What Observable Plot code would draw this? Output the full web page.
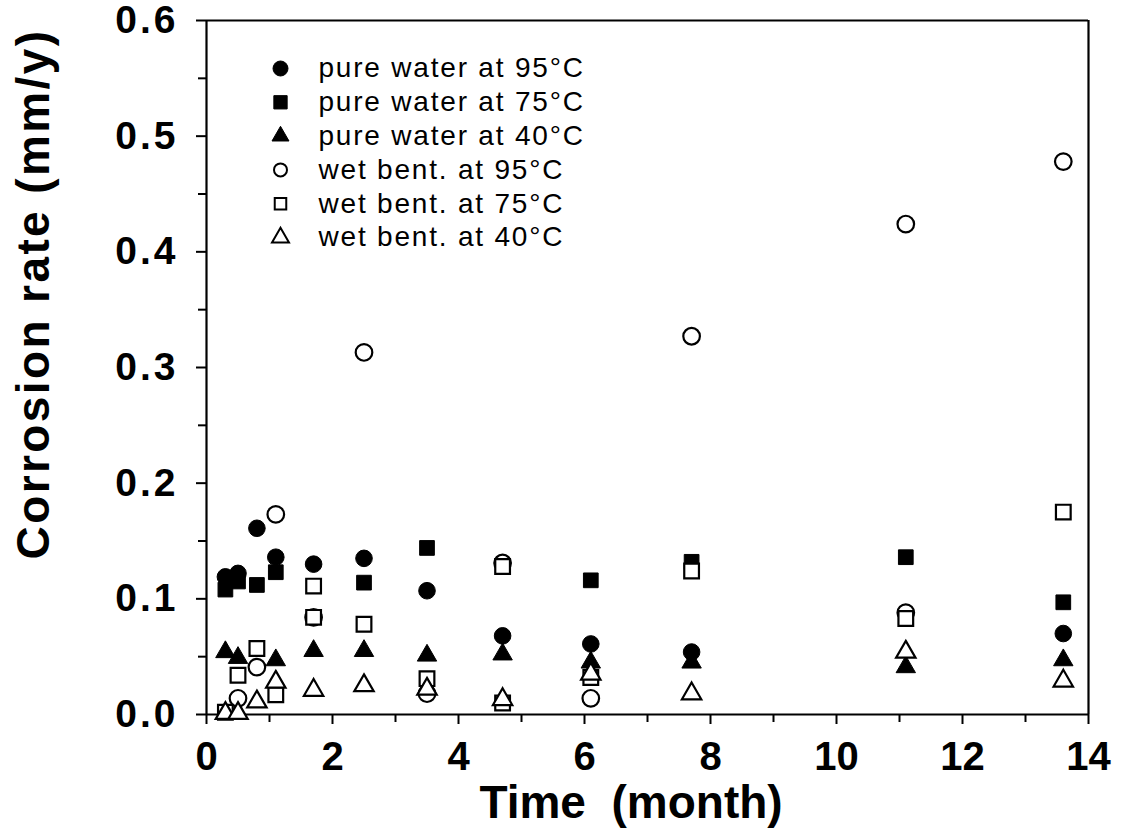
<!DOCTYPE html>
<html><head><meta charset="utf-8">
<script src="https://cdn.jsdelivr.net/npm/d3@7"></script>
<script src="https://cdn.jsdelivr.net/npm/@observablehq/plot@0.6"></script>
<style>
body{margin:0;background:#fff}
#wrap{position:relative;width:1125px;height:833px;font-family:'Liberation Sans',Arial,Helvetica,sans-serif;color:#000}
.ttl{position:absolute;white-space:nowrap;font-weight:bold;font-size:46px;line-height:46px}
#ylab{left:33px;top:294px;transform:translate(-50%,-50%) rotate(-90deg);letter-spacing:2.4px}
#xlab{left:631px;top:779px;transform:translateX(-50%)}
#chart g[aria-label="text"] text{letter-spacing:1.8px}
#chart g[aria-label="y-axis tick label"] text{letter-spacing:3px}
</style>
</head><body><div id="wrap"><div id="chart"></div>
<div class="ttl" id="ylab">Corrosion rate (mm/y)</div>
<div class="ttl" id="xlab">Time&nbsp;&nbsp;(month)</div>
</div>
<script>
// [time (month), corrosion rate (mm/y)]
const pureWater95 = [[0.3,0.119],[0.5,0.122],[0.8,0.161],[1.1,0.136],[1.7,0.130],[2.5,0.135],[3.5,0.107],[4.7,0.068],[6.1,0.061],[7.7,0.054],[13.6,0.070]];
const pureWater75 = [[0.3,0.108],[0.5,0.115],[0.8,0.112],[1.1,0.123],[2.5,0.114],[3.5,0.144],[6.1,0.116],[7.7,0.132],[11.1,0.136],[13.6,0.097]];
const pureWater40 = [[0.3,0.054],[0.5,0.049],[1.1,0.047],[1.7,0.055],[2.5,0.055],[3.5,0.051],[4.7,0.052],[6.1,0.045],[7.7,0.045],[11.1,0.041],[13.6,0.047]];
const wetBent95 = [[0.5,0.014],[0.8,0.041],[1.1,0.173],[1.7,0.084],[2.5,0.313],[3.5,0.018],[4.7,0.131],[6.1,0.014],[7.7,0.327],[11.1,0.088],[11.1,0.424],[13.6,0.478]];
const wetBent75 = [[0.3,0.002],[0.5,0.034],[0.8,0.057],[1.1,0.017],[1.7,0.111],[1.7,0.084],[2.5,0.078],[3.5,0.031],[4.7,0.128],[4.7,0.010],[6.1,0.032],[7.7,0.124],[11.1,0.083],[13.6,0.175]];
const wetBent40 = [[0.3,0.001],[0.5,0.001],[0.8,0.011],[1.1,0.028],[1.7,0.021],[2.5,0.025],[3.5,0.022],[4.7,0.013],[6.1,0.035],[7.7,0.018],[11.1,0.054],[13.6,0.029]];

const seriesNames = ["pure water at 95°C","pure water at 75°C","pure water at 40°C","wet bent. at 95°C","wet bent. at 75°C","wet bent. at 40°C"];
const seriesData = [pureWater95, pureWater75, pureWater40, wetBent95, wetBent75, wetBent40];
const symbols = ["circle","square","triangle","circle","square","triangle"];
const filled = [true,true,true,false,false,false];

const xMajorTicks = [0,2,4,6,8,10,12,14];
const xMinorTicks = [1,3,5,7,9,11,13];
const yMajorTicks = [0,0.1,0.2,0.3,0.4,0.5,0.6];
const yMinorTicks = [0.05,0.15,0.25,0.35,0.45,0.55];

const font = "'Liberation Sans', Arial, Helvetica, sans-serif";

const marks = [];
marks.push(Plot.ruleY([0, 0.6], {stroke: "#000", strokeWidth: 2.2}));
marks.push(Plot.ruleX([0, 14], {stroke: "#000", strokeWidth: 2.2}));
marks.push(Plot.axisX({ticks: xMajorTicks, tickSize: 10, tickPadding: 17, tickFormat: d => String(d), fontSize: 40, fontWeight: "bold", fontFamily: font, label: null, strokeWidth: 2}));
marks.push(Plot.axisX({ticks: xMinorTicks, tickSize: 8, text: null, label: null, strokeWidth: 2}));
marks.push(Plot.axisY({ticks: yMajorTicks, tickSize: 10, tickPadding: 18, tickFormat: d => d.toFixed(1), fontSize: 39, fontWeight: "bold", fontFamily: font, label: null, strokeWidth: 2}));
marks.push(Plot.axisY({ticks: yMinorTicks, tickSize: 8, text: null, label: null, strokeWidth: 2}));

seriesData.forEach((data, i) => {
  const tri = symbols[i] === "triangle";
  marks.push(Plot.dot(data, {
    x: d => d[0], y: d => d[1], symbol: () => symbols[i],
    r: tri ? 7.2 : 8.3,
    fill: filled[i] ? "#000" : "#fff",
    stroke: "#000", strokeWidth: filled[i] ? 1 : 2.2
  }));
});

seriesNames.forEach((name, i) => {
  const tri = symbols[i] === "triangle";
  const dy = 48 + 33.8 * i;
  const r = tri ? 6.3 : (filled[i] ? 7.5 : 6.5);
  marks.push(Plot.dot([name], {
    frameAnchor: "top-left", dx: 74, dy,
    symbol: () => symbols[i], r,
    fill: filled[i] ? "#000" : "#fff", stroke: "#000", strokeWidth: filled[i] ? 1 : 2
  }));
  marks.push(Plot.text([name], {
    frameAnchor: "top-left", dx: 112, dy, text: d => d,
    textAnchor: "start", lineAnchor: "middle", fontSize: 28, fontFamily: font, fill: "#000"
  }));
});

const chart = Plot.plot({
  width: 1125, height: 833,
  marginLeft: 206, marginRight: 37, marginTop: 20, marginBottom: 119,
  x: {domain: [0, 14]},
  y: {domain: [0, 0.6]},
  style: {background: "#fff", color: "#000", fontFamily: font},
  marks
});
document.getElementById("chart").appendChild(chart);
</script>
</body></html>
